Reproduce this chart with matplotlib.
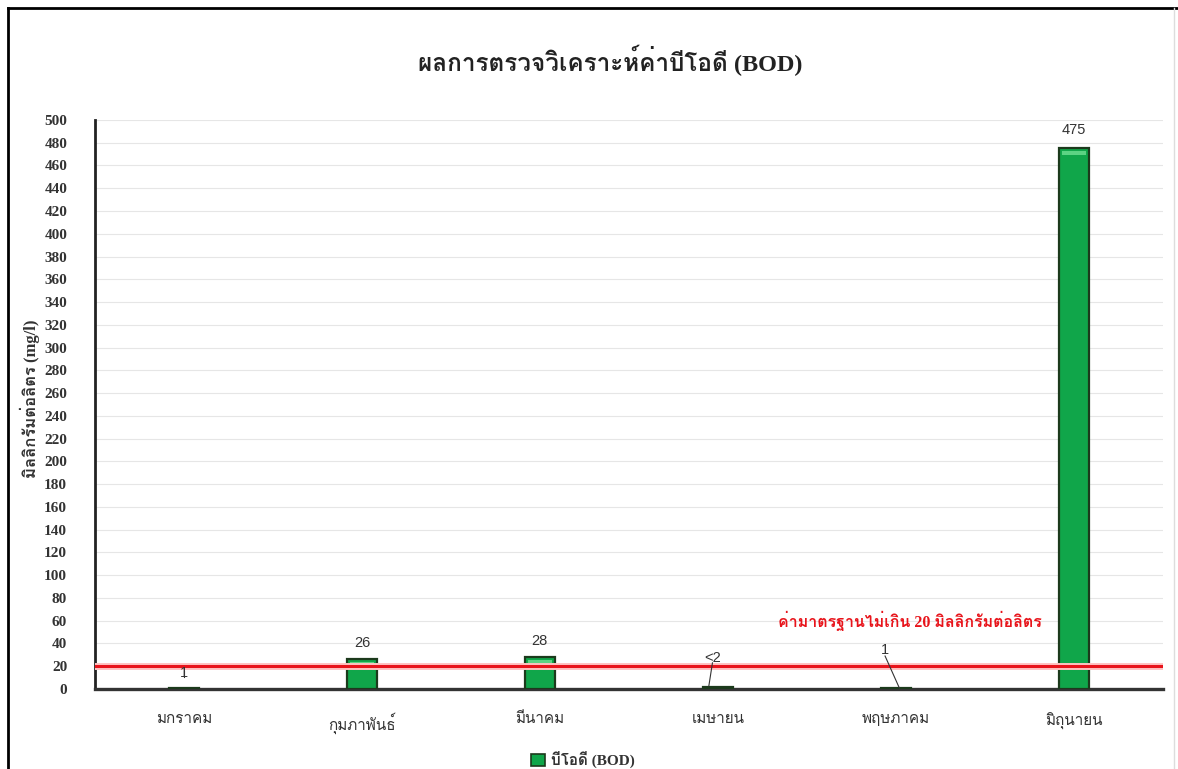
import matplotlib
matplotlib.use("Agg")
import matplotlib.pyplot as plt
from matplotlib import font_manager
from matplotlib.ft2font import FT2Font
from matplotlib.lines import Line2D
from matplotlib.patches import Patch

# ---- data ----
months = ["มกราคม", "กุมภาพันธ์", "มีนาคม", "เมษายน", "พฤษภาคม", "มิถุนายน"]
bod_values = [1, 26, 28, 2, 1, 475]
bod_labels = ["1", "26", "28", "<2", "1", "475"]
standard_limit = 20
y_ticks = list(range(0, 501, 20))

title_text = "ผลการตรวจวิเคราะห์ค่าบีโอดี (BOD)"
y_label = "มิลลิกรัมต่อลิตร (mg/l)"
limit_text = "ค่ามาตรฐานไม่เกิน 20 มิลลิกรัมต่อลิตร"
series_name = "บีโอดี (BOD)"


def find_thai_fonts():
    names = []
    for f in font_manager.fontManager.ttflist:
        try:
            cmap = FT2Font(f.fname).get_charmap()
        except Exception:
            continue
        if 0x0E01 in cmap and f.name not in names:
            names.append(f.name)
    return names


thai = find_thai_fonts()
serif = ["Liberation Serif"] + thai + ["DejaVu Serif", "DejaVu Sans"]
sans = ["Liberation Sans"] + thai + ["DejaVu Sans"]
plt.rcParams["font.family"] = serif

fig = plt.figure(figsize=(11.78, 7.69), dpi=100)
ax = fig.add_axes([0.0806, 0.104, 0.9064, 0.740])

x = list(range(len(months)))
bars = ax.bar(x, bod_values, width=0.17, color="#10A64A",
              edgecolor="#1C3A1C", linewidth=1.6, zorder=3)
# lighter band at top of each bar
for b, v in zip(bars, bod_values):
    if v > 6:
        ax.bar(b.get_x() + b.get_width() / 2, 3.0, bottom=v - 5.5,
               width=b.get_width() * 0.8, color="#5CD383",
               linewidth=0, zorder=4)

# standard limit line
ax.axhline(standard_limit, color="#FFC2C2", linewidth=5, zorder=4)
ax.axhline(standard_limit, color="#E8141B", linewidth=2.2, zorder=5)
ax.text(4.08, 60, limit_text, color="#E8141B", fontsize=11.5,
        fontweight="bold", ha="center", va="center", family=serif, zorder=6)

# data labels
label_pos = [(0.0, 14), (1.0, 40), (2.0, 42), (3.0 - 0.03, 27), (4.0 - 0.06, 34), (5.0, 491)]
for i, (lx, ly) in enumerate(label_pos):
    ax.text(lx, ly, bod_labels[i], ha="center", va="center", fontsize=10.5,
            color="#333333", family=sans, zorder=6)
# leader lines for small labels
ax.plot([3.0 - 0.03, 3.0 - 0.05], [23, 3], color="#333333", lw=0.8, zorder=6)
ax.plot([4.0 - 0.06, 4.0 + 0.02], [29, 1], color="#333333", lw=0.8, zorder=6)
ax.plot([0.0, 0.0], [11, 16], color="#333333", lw=0.8, zorder=6)

ax.set_xlim(-0.5, 5.5)
ax.set_ylim(0, 500)
ax.set_yticks(y_ticks)
ax.set_yticklabels([str(t) for t in y_ticks], fontsize=11, fontweight="bold",
                   color="#333333")
ax.set_xticks(x)
ax.set_xticklabels(months, fontsize=11, color="#333333")
ax.tick_params(axis="both", length=0)
ax.tick_params(axis="x", pad=17)
ax.tick_params(axis="y", pad=20)
ax.grid(axis="y", color="#E6E6E6", linewidth=0.8, zorder=0)
ax.set_axisbelow(True)

for s in ["top", "right"]:
    ax.spines[s].set_visible(False)
ax.spines["left"].set_linewidth(2)
ax.spines["left"].set_color("#222222")
ax.spines["bottom"].set_linewidth(2.4)
ax.spines["bottom"].set_color("#333333")

ax.set_ylabel(y_label, fontsize=12, fontweight="bold", color="#333333")
ax.yaxis.set_label_coords(-0.051, 0.51)

fig.text(0.518, 0.922, title_text, ha="center", va="center", fontsize=17.5,
         fontweight="bold", color="#222222")

leg = fig.legend(handles=[Patch(facecolor="#10A64A", edgecolor="#1C3A1C",
                                linewidth=1.2, label=series_name)],
                 loc="center", bbox_to_anchor=(0.495, 0.012), frameon=False,
                 fontsize=11, handlelength=0.9, handleheight=0.9,
                 handletextpad=0.4, borderpad=0)
for t in leg.get_texts():
    t.set_color("#333333")
    t.set_fontweight("bold")

# outer frame
fig.add_artist(Line2D([0.007, 0.007], [0.0, 0.99], transform=fig.transFigure,
                      color="black", lw=2))
fig.add_artist(Line2D([0.007, 1.0], [0.99, 0.99], transform=fig.transFigure,
                      color="black", lw=2))
fig.add_artist(Line2D([0.997, 0.997], [0.0, 0.99], transform=fig.transFigure,
                      color="#DDDDDD", lw=1))

fig.savefig("out.png", dpi=100)
